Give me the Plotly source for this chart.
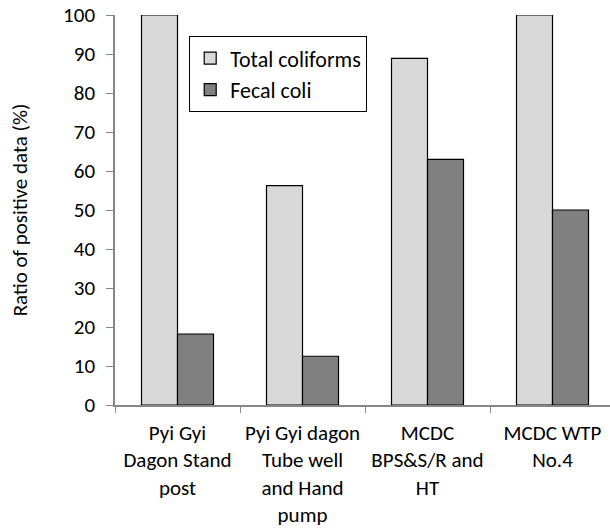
import plotly.graph_objects as go

# Sampling sites and share of positive samples (%)
sites = [
    "Pyi Gyi<br>Dagon Stand<br>post",
    "Pyi Gyi dagon<br>Tube well<br>and Hand<br>pump",
    "MCDC<br>BPS&S/R and<br>HT",
    "MCDC WTP<br>No.4",
]
total_coliforms = [100.0, 56.25, 88.9, 100.0]
fecal_coli = [18.2, 12.5, 63.0, 50.0]

y_ticks = [0, 10, 20, 30, 40, 50, 60, 70, 80, 90, 100]

FONT = "Calibri, Carlito, Lato, 'Open Sans', sans-serif"
AXIS_GREY = "#868686"

fig = go.Figure()
fig.add_trace(go.Bar(
    x=sites, y=total_coliforms, name="Total coliforms",
    marker=dict(color="#d9d9d9", line=dict(color="#000000", width=1.2)),
    legendgroup="a",
))
fig.add_trace(go.Bar(
    x=sites, y=fecal_coli, name="Fecal coli",
    marker=dict(color="#808080", line=dict(color="#000000", width=1.2)),
    legendgroup="b",
))

fig.update_layout(
    width=610, height=528,
    margin=dict(l=115, r=0, t=15, b=123),
    paper_bgcolor="white", plot_bgcolor="white",
    barmode="group", bargap=0.424, bargroupgap=0,
    font=dict(family=FONT, size=21, color="#000000"),
    showlegend=True,
    legend=dict(
        x=0.1495, y=0.946, xanchor="left", yanchor="top",
        bordercolor="#000000", borderwidth=1.2, bgcolor="white",
        font=dict(size=22), tracegroupgap=0, itemwidth=30,
        traceorder="normal",
    ),
)

fig.update_xaxes(
    type="category", range=[-0.5, 3.46], automargin=False,
    showline=True, linecolor=AXIS_GREY, linewidth=1.5,
    ticks="outside", tickson="boundaries", ticklen=6, tickcolor=AXIS_GREY,
    showgrid=False, zeroline=False,
    tickfont=dict(size=21), ticklabelstandoff=8,
)
fig.update_yaxes(
    range=[0, 100], tickvals=y_ticks, automargin=False,
    showline=True, linecolor=AXIS_GREY, linewidth=1.5,
    ticks="outside", ticklen=7, tickcolor=AXIS_GREY,
    showgrid=False, zeroline=False,
    tickfont=dict(size=21), ticklabelstandoff=7,
    title=dict(text="Ratio of positive data (%)", font=dict(size=21), standoff=30),
)

fig.write_html("out.html")
